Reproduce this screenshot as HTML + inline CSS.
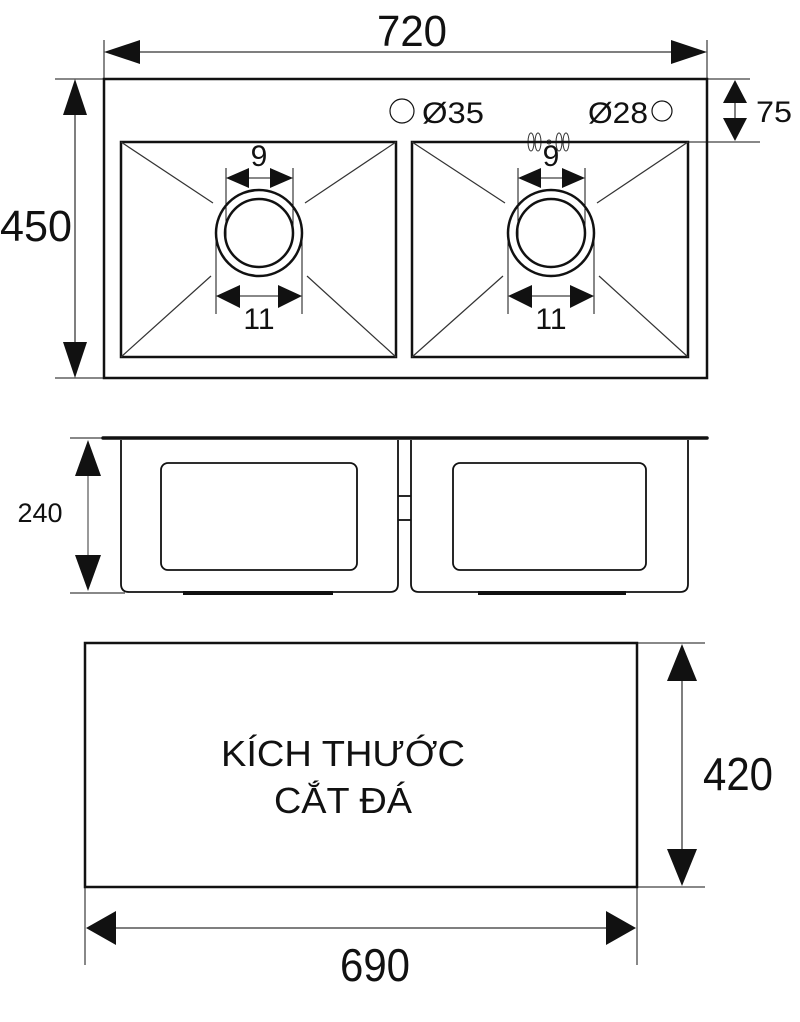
<!DOCTYPE html>
<html><head><meta charset="utf-8"><style>html,body{margin:0;padding:0;background:#fff}svg{display:block}</style></head>
<body>
<svg width="800" height="1022" viewBox="0 0 800 1022" xmlns="http://www.w3.org/2000/svg" font-family="Liberation Sans, sans-serif" fill="none" stroke="#111">
<!-- TOP VIEW -->
<rect x="104" y="79" width="603" height="299" stroke-width="2.5"/>
<!-- 720 dim -->
<line x1="104" y1="40" x2="104" y2="79" stroke-width="1"/>
<line x1="707" y1="40" x2="707" y2="79" stroke-width="1"/>
<line x1="140" y1="52" x2="672" y2="52" stroke="#555" stroke-width="1.5"/>
<polygon points="104,52 140,40 140,64" fill="#111" stroke="none"/>
<polygon points="707,52 671,40 671,64" fill="#111" stroke="none"/>
<text x="412" y="46" font-size="44" text-anchor="middle" fill="#111" stroke="none" textLength="70" lengthAdjust="spacingAndGlyphs">720</text>
<!-- 450 dim -->
<line x1="55" y1="79" x2="104" y2="79" stroke-width="1"/>
<line x1="55" y1="378" x2="104" y2="378" stroke-width="1"/>
<line x1="75" y1="115" x2="75" y2="342" stroke="#555" stroke-width="1.5"/>
<polygon points="75,79 63,115 87,115" fill="#111" stroke="none"/>
<polygon points="75,378 63,342 87,342" fill="#111" stroke="none"/>
<text x="36" y="241" font-size="44" text-anchor="middle" fill="#111" stroke="none" textLength="72" lengthAdjust="spacingAndGlyphs">450</text>
<!-- 75 dim -->
<line x1="707" y1="79" x2="750" y2="79" stroke-width="1"/>
<line x1="688" y1="142" x2="760" y2="142" stroke-width="1"/>
<line x1="735" y1="100" x2="735" y2="122" stroke="#555" stroke-width="1.5"/>
<polygon points="735,80 723,103 747,103" fill="#111" stroke="none"/>
<polygon points="735,141 723,118 747,118" fill="#111" stroke="none"/>
<text x="756" y="122" font-size="30" fill="#111" stroke="none" textLength="36" lengthAdjust="spacingAndGlyphs">75</text>
<!-- faucet holes -->
<circle cx="402" cy="111" r="12" stroke-width="1.2"/>
<text x="422" y="123" font-size="30" fill="#111" stroke="none" textLength="62" lengthAdjust="spacingAndGlyphs">Ø35</text>
<text x="588" y="123" font-size="30" fill="#111" stroke="none" textLength="60" lengthAdjust="spacingAndGlyphs">Ø28</text>
<circle cx="662" cy="111" r="10" stroke-width="1.2"/>
<g stroke-width="1" stroke="#333">
<ellipse cx="531" cy="142" rx="3" ry="9"/><ellipse cx="538" cy="142" rx="3" ry="9"/>
<ellipse cx="559" cy="142" rx="3" ry="9"/><ellipse cx="566" cy="142" rx="3" ry="9"/>
<circle cx="549" cy="142" r="2"/>
</g>
<!-- bowls -->
<g stroke-width="2.5">
<rect x="121" y="142" width="275" height="215"/>
<rect x="412" y="142" width="276" height="215"/>
</g>
<g stroke-width="1.2" stroke="#333">
<line x1="121" y1="142" x2="213" y2="203"/><line x1="396" y1="142" x2="305" y2="203"/>
<line x1="121" y1="357" x2="211" y2="276"/><line x1="396" y1="357" x2="307" y2="276"/>
<line x1="412" y1="142" x2="505" y2="203"/><line x1="688" y1="142" x2="597" y2="203"/>
<line x1="412" y1="357" x2="503" y2="276"/><line x1="688" y1="357" x2="599" y2="276"/>
</g>
<!-- drains -->
<g stroke-width="2.5">
<circle cx="259" cy="233" r="43"/><circle cx="259" cy="233" r="34"/>
<circle cx="551" cy="233" r="43"/><circle cx="551" cy="233" r="34"/>
</g>
<g id="d" stroke-width="1">
<line x1="226" y1="168" x2="226" y2="240"/><line x1="293" y1="168" x2="293" y2="240"/>
<line x1="216" y1="230" x2="216" y2="314"/><line x1="302" y1="230" x2="302" y2="314"/>
<line x1="245" y1="178" x2="275" y2="178"/><line x1="236" y1="296" x2="282" y2="296"/>
<polygon points="226,178 249,168 249,188" fill="#111" stroke="none"/>
<polygon points="293,178 270,168 270,188" fill="#111" stroke="none"/>
<polygon points="216,296 240,285 240,308" fill="#111" stroke="none"/>
<polygon points="302,296 278,285 278,308" fill="#111" stroke="none"/>
<text x="259" y="166" font-size="30" text-anchor="middle" fill="#111" stroke="none">9</text>
<text x="259" y="329" font-size="30" text-anchor="middle" fill="#111" stroke="none">11</text>
</g>
<use href="#d" transform="translate(292,0)"/>
<!-- SIDE VIEW -->
<line x1="70" y1="438" x2="104" y2="438" stroke-width="1"/>
<line x1="70" y1="593" x2="125" y2="593" stroke-width="1"/>
<line x1="88" y1="475" x2="88" y2="560" stroke="#555" stroke-width="1.2"/>
<polygon points="88,440 75,476 101,476" fill="#111" stroke="none"/>
<polygon points="88,591 75,555 101,555" fill="#111" stroke="none"/>
<text x="40" y="522" font-size="27" text-anchor="middle" fill="#111" stroke="none">240</text>
<line x1="103" y1="438" x2="707" y2="438" stroke-width="3.5" stroke-linecap="round"/>
<g stroke-width="1.8">
<path d="M121 440 V584 Q121 592 129 592 H390 Q398 592 398 584 V440"/>
<path d="M411 440 V584 Q411 592 419 592 H680 Q688 592 688 584 V440"/>
<rect x="161" y="463" width="196" height="107" rx="7"/>
<rect x="453" y="463" width="193" height="107" rx="7"/>
<line x1="398" y1="496" x2="411" y2="496"/><line x1="398" y1="520" x2="411" y2="520"/>
</g>
<rect x="183" y="591" width="150" height="4" fill="#111" stroke="none"/>
<rect x="478" y="591" width="148" height="4" fill="#111" stroke="none"/>
<!-- CUT VIEW -->
<rect x="85" y="643" width="552" height="244" stroke-width="2.5"/>
<text x="343" y="766" font-size="36" text-anchor="middle" fill="#111" stroke="none" textLength="244" lengthAdjust="spacingAndGlyphs">KÍCH THƯỚC</text>
<text x="343" y="813" font-size="36" text-anchor="middle" fill="#111" stroke="none" textLength="138" lengthAdjust="spacingAndGlyphs">CẮT ĐÁ</text>
<line x1="637" y1="643" x2="705" y2="643" stroke-width="1"/>
<line x1="637" y1="887" x2="705" y2="887" stroke-width="1"/>
<line x1="682" y1="680" x2="682" y2="850" stroke="#555" stroke-width="1.5"/>
<polygon points="682,644 667,681 697,681" fill="#111" stroke="none"/>
<polygon points="682,886 667,849 697,849" fill="#111" stroke="none"/>
<text x="738" y="790" font-size="46" text-anchor="middle" fill="#111" stroke="none" textLength="70" lengthAdjust="spacingAndGlyphs">420</text>
<line x1="85" y1="887" x2="85" y2="965" stroke-width="1"/>
<line x1="637" y1="887" x2="637" y2="965" stroke-width="1"/>
<line x1="115" y1="928" x2="610" y2="928" stroke="#555" stroke-width="1.5"/>
<polygon points="86,928 116,911 116,945" fill="#111" stroke="none"/>
<polygon points="636,928 606,911 606,945" fill="#111" stroke="none"/>
<text x="375" y="981" font-size="46" text-anchor="middle" fill="#111" stroke="none" textLength="70" lengthAdjust="spacingAndGlyphs">690</text>
</svg>
</body></html>
